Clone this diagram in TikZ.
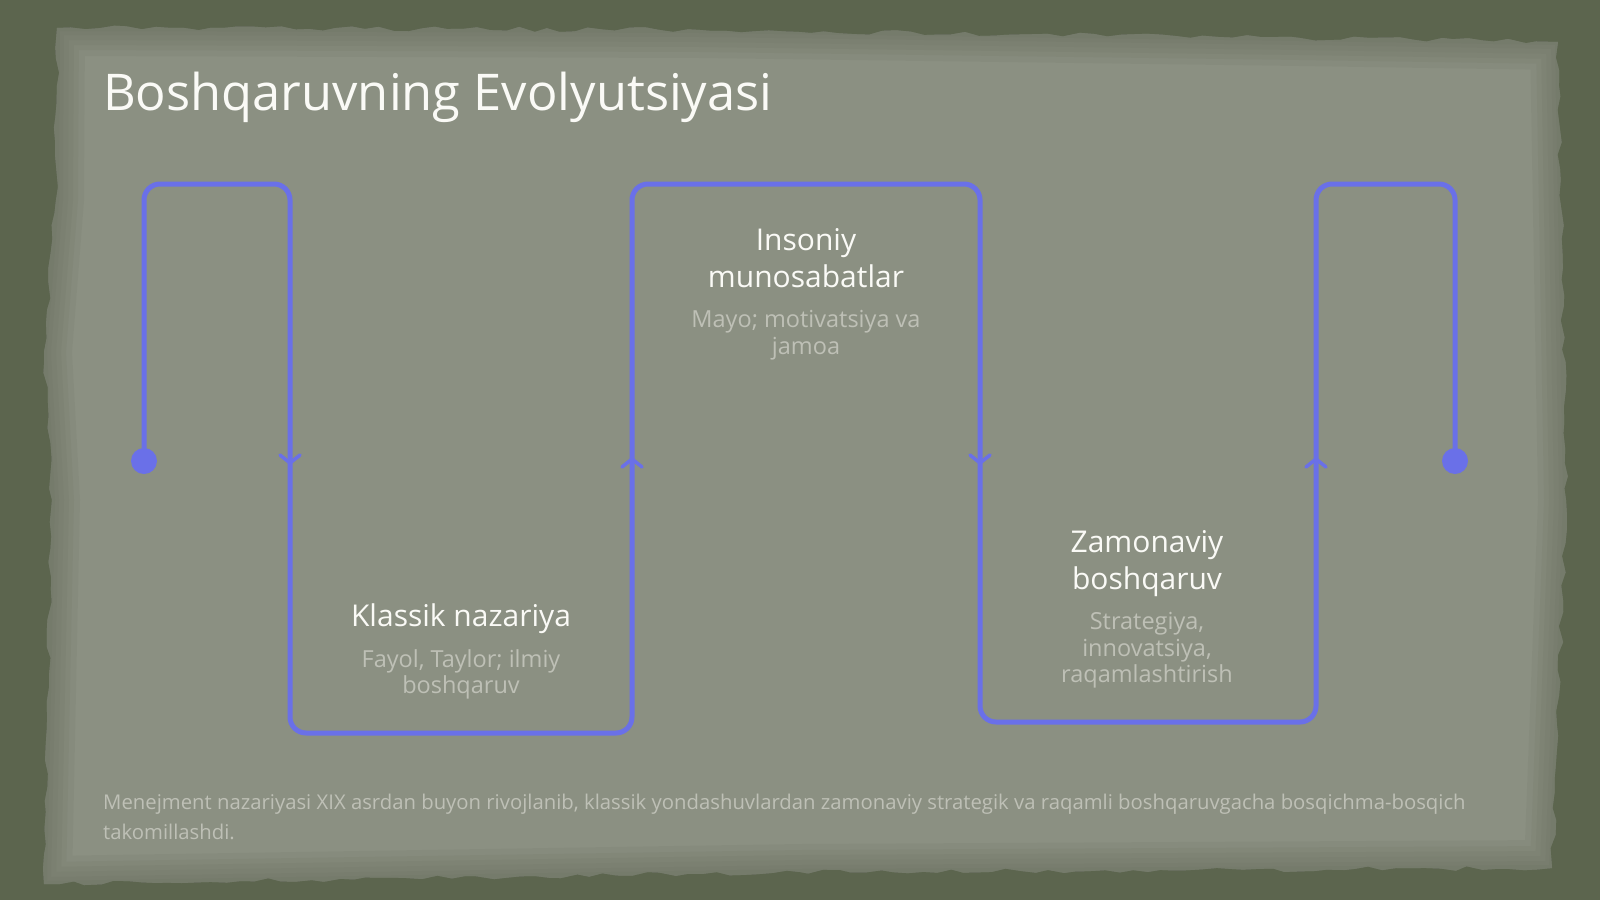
\documentclass[tikz,border=0pt]{standalone}
\usepackage{fontspec}
\setmainfont{Open Sans}
\usetikzlibrary{decorations.pathmorphing,calc}
\definecolor{bgdark}{RGB}{92,101,78}
\definecolor{paper}{RGB}{139,144,130}
\definecolor{paperedge}{RGB}{104,110,94}
\definecolor{flow}{RGB}{106,112,232}
\definecolor{subtxt}{RGB}{190,192,182}
\definecolor{headtxt}{RGB}{250,250,246}
\def\paperpath{(57,28) -- (700,30) -- (1300,38) -- (1558,42) -- (1566,500) -- (1552,868) -- (800,872) -- (44,884) -- (52,500) -- (44,352) -- (56,200) -- cycle}
\begin{document}
\begin{tikzpicture}[x=1pt,y=-1pt,
  torn/.style={decorate,decoration={random steps,segment length=14pt,amplitude=2.5pt}},
  edgeshade/.style={draw=paperedge,opacity=0.13},
  flowline/.style={draw=flow,line width=5pt,rounded corners=16pt,line join=round},
  tipline/.style={draw=flow,line width=3.5pt,line cap=round,line join=round},
  headtext/.style={text=headtxt,align=center,inner sep=0pt,font=\fontsize{30}{37}\selectfont},
  subtext/.style={text=subtxt,align=center,inner sep=0pt,font=\fontsize{23.5}{26.5}\selectfont},
  foottext/.style={text=subtxt,align=left,inner sep=0pt,anchor=west,font=\fontsize{20.3}{30}\selectfont}]
\useasboundingbox (0,0) rectangle (1600,900);
\fill[bgdark] (0,0) rectangle (1600,900);
% paper
\pgfmathsetseed{7}
\fill[paper,torn] \paperpath;
\begin{scope}
\pgfmathsetseed{7}
\path[clip,torn] \paperpath;
\foreach \w in {56,44,34,24,14,6}{
  \draw[edgeshade,line width=\w pt] \paperpath;
}
\end{scope}
% title
\node[anchor=base west,inner sep=0pt,text=headtxt,font=\fontsize{50.6}{60}\selectfont] (title) at (103,110) {Boshqaruvning Evolyutsiyasi};
% path coordinates
\coordinate (s) at (144,461);
\coordinate (t1) at (144,184);
\coordinate (t2) at (290,184);
\coordinate (b1) at (290,733);
\coordinate (b2) at (632,733);
\coordinate (t3) at (632,184);
\coordinate (t4) at (980,184);
\coordinate (b3) at (980,722);
\coordinate (b4) at (1316,722);
\coordinate (t5) at (1316,184);
\coordinate (t6) at (1455,184);
\coordinate (e) at (1455,461);
\draw[flowline] (s) -- (t1) -- (t2) -- (b1) -- (b2) -- (t3) -- (t4) -- (b3) -- (b4) -- (t5) -- (t6) -- (e);
\fill[flow] (s) circle (13);
\fill[flow] (e) circle (13);
% direction tips
\coordinate (m1) at (290,463);
\coordinate (m2) at (632,459);
\coordinate (m3) at (980,463);
\coordinate (m4) at (1316,459);
\draw[tipline] ($(m1)+(-10,-8)$) -- (m1) -- ($(m1)+(10,-8)$);
\draw[tipline] ($(m2)+(-10,8)$) -- (m2) -- ($(m2)+(10,8)$);
\draw[tipline] ($(m3)+(-10,-8)$) -- (m3) -- ($(m3)+(10,-8)$);
\draw[tipline] ($(m4)+(-10,8)$) -- (m4) -- ($(m4)+(10,8)$);
% texts
\node[headtext] (h1) at (461,619) {Klassik nazariya};
\node[subtext] (d1) at (461,674.5) {Fayol, Taylor; ilmiy\\boshqaruv};
\node[headtext] (h2) at (806,258) {Insoniy\\munosabatlar};
\node[subtext] (d2) at (806,335) {Mayo; motivatsiya va\\jamoa};
\node[headtext] (h3) at (1147,564) {Zamonaviy\\boshqaruv};
\node[subtext] (d3) at (1147,650.5) {Strategiya,\\innovatsiya,\\raqamlashtirish};
\node[foottext] (foot) at (103,817) {Menejment nazariyasi XIX asrdan buyon rivojlanib, klassik yondashuvlardan zamonaviy strategik va raqamli boshqaruvgacha bosqichma-bosqich\\takomillashdi.};
\end{tikzpicture}
\end{document}
